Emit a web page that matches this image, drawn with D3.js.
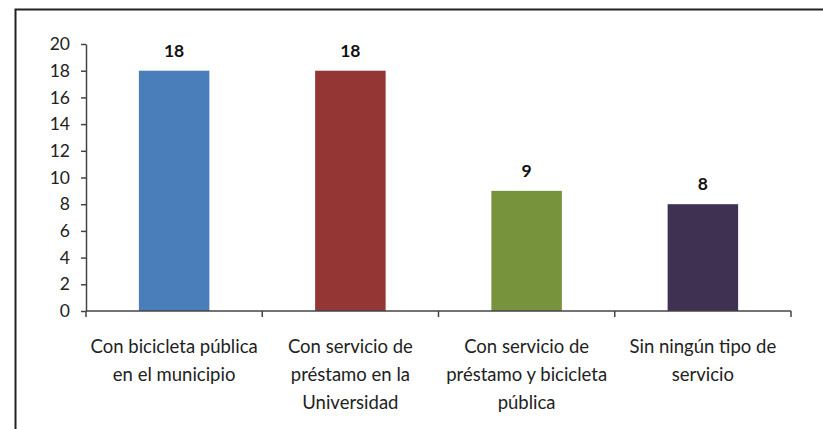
<!DOCTYPE html>
<html>
<head>
<meta charset="utf-8">
<script src="https://cdn.jsdelivr.net/npm/d3@7"></script>
<style>
  body { margin: 0; background: #fff; }
  svg { display: block; font-family: Lato, "Open Sans", sans-serif; }
</style>
</head>
<body>
<svg id="chart" width="823" height="429"></svg>
<script>
var categories = [
  ["Con bicicleta pública", "en el municipio"],
  ["Con servicio de", "préstamo en la", "Universidad"],
  ["Con servicio de", "préstamo y bicicleta", "pública"],
  ["Sin ningún tipo de", "servicio"]
];
var values = [18, 18, 9, 8];
var colors = ["#4a7ebb", "#943634", "#77933c", "#3f3151"];
var yTicks = [0, 2, 4, 6, 8, 10, 12, 14, 16, 18, 20];

var svg = d3.select("#chart"),
  width = +svg.attr("width"),
  height = +svg.attr("height");

// outer frame (left and top edges only visible)
svg.append("path")
  .attr("d", "M15.5," + height + "V9.5H" + width)
  .attr("fill", "none")
  .attr("stroke", "#222")
  .attr("stroke-width", 2);

var margin = {left: 86, right: 32, top: 44, bottom: 118};
var x = d3.scaleBand()
  .domain(d3.range(categories.length))
  .range([margin.left, width - margin.right]);
var y = d3.scaleLinear()
  .domain([0, 20])
  .range([height - margin.bottom, margin.top]);

var barW = x.bandwidth() * 0.4;

// bars
svg.selectAll(".bar")
  .data(values)
  .enter().append("rect")
    .attr("class", "bar")
    .attr("x", function(d, i) { return x(i) + (x.bandwidth() - barW) / 2; })
    .attr("y", function(d) { return y(d); })
    .attr("width", barW)
    .attr("height", function(d) { return y(0) - y(d); })
    .attr("fill", function(d, i) { return colors[i]; });

// value labels
svg.selectAll(".val")
  .data(values)
  .enter().append("text")
    .attr("class", "val")
    .attr("x", function(d, i) { return x(i) + x.bandwidth() / 2; })
    .attr("y", function(d) { return y(d) - 14; })
    .attr("text-anchor", "middle")
    .attr("font-weight", "bold")
    .attr("font-size", 17.5)
    .attr("fill", "#111")
    .text(function(d) { return d; });

// y axis
var yAxis = svg.append("g")
  .attr("transform", "translate(" + margin.left + ",0)")
  .call(d3.axisLeft(y).tickValues(yTicks).tickSize(5).tickPadding(11).tickSizeOuter(0));
yAxis.selectAll("text").attr("font-size", 17.5).attr("fill", "#222").attr("font-family", "Lato, sans-serif");
yAxis.selectAll("line, path").attr("stroke", "#444").attr("stroke-width", 1.5);

// x axis line + ticks at category boundaries
var xAxis = svg.append("g")
  .attr("transform", "translate(0," + y(0) + ")");
xAxis.append("line")
  .attr("x1", margin.left).attr("x2", width - margin.right)
  .attr("stroke", "#444").attr("stroke-width", 1.5);
xAxis.selectAll(".xt")
  .data(d3.range(categories.length + 1))
  .enter().append("line")
    .attr("class", "xt")
    .attr("x1", function(i) { return i < categories.length ? x(i) : x(i - 1) + x.bandwidth(); })
    .attr("x2", function(i) { return i < categories.length ? x(i) : x(i - 1) + x.bandwidth(); })
    .attr("y1", 0).attr("y2", 6)
    .attr("stroke", "#444").attr("stroke-width", 1.5);

// category labels
var lab = svg.selectAll(".cat")
  .data(categories)
  .enter().append("text")
    .attr("class", "cat")
    .attr("text-anchor", "middle")
    .attr("font-size", 18.5)
    .attr("fill", "#222");
lab.selectAll("tspan")
  .data(function(d, i) { return d.map(function(t) { return {t: t, i: i}; }); })
  .enter().append("tspan")
    .attr("x", function(d) { return x(d.i) + x.bandwidth() / 2; })
    .attr("y", function(d, j) { return 353 + j * 28; })
    .text(function(d) { return d.t; });
</script>
</body>
</html>
